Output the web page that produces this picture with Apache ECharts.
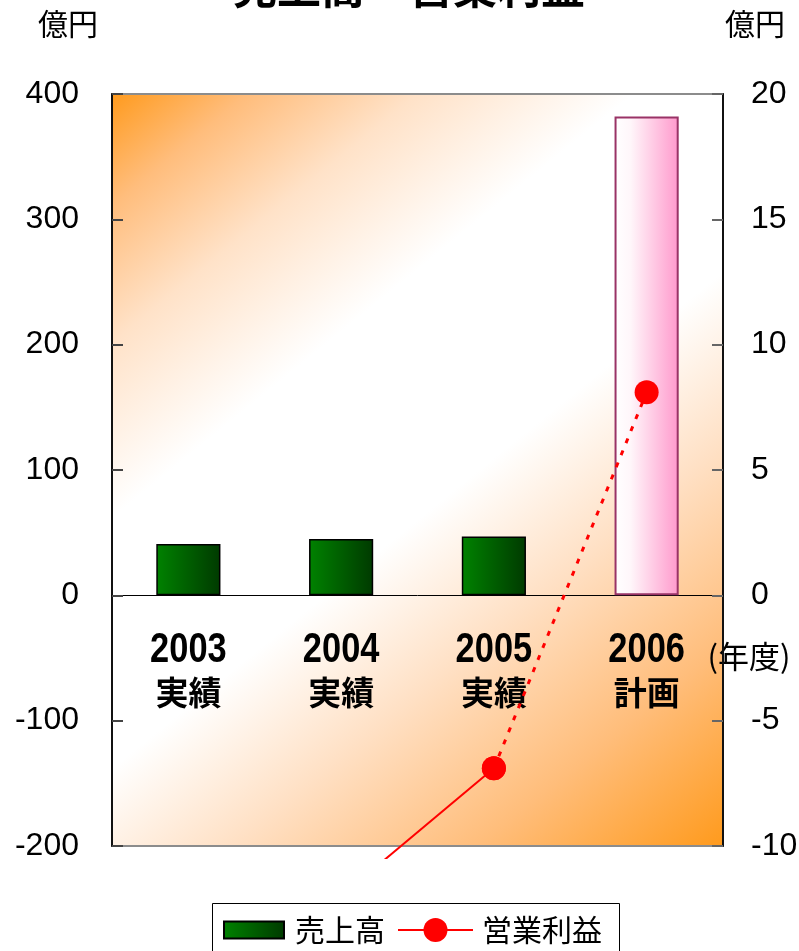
<!DOCTYPE html>
<html>
<head>
<meta charset="utf-8">
<script src="https://cdn.jsdelivr.net/npm/echarts@6/dist/echarts.min.js"></script>
<style>
  html, body { margin: 0; padding: 0; background: #fff; }
  #chart { width: 799px; height: 951px; }
</style>
</head>
<body>
<div id="chart"></div>
<script>
// Fiscal years and their status (actual / plan)
const years = ['2003', '2004', '2005', '2006'];
const status = ['実績', '実績', '実績', '計画'];

// 売上高 (億円), left axis
const sales = [41, 45, 47, 382];
// 営業利益 (億円), right axis: actual segment and plan segment
const profitActual = [null, -12, -6.9, null];
const profitPlan = [null, null, -6.9, 8.1];

// Axis ranges and tick steps
const leftAxis = { min: -200, max: 400, interval: 100 };
const rightAxis = { min: -10, max: 20, interval: 5 };

const CJK = '"Noto Sans CJK JP", "Noto Sans", sans-serif';
const LATIN = '"Liberation Sans", Arial, sans-serif';

const W = 799, H = 951;
const chart = echarts.init(document.getElementById('chart'), null, { renderer: 'canvas', width: W, height: H });

const plotLeft = 112, plotRight = 76, plotTop = 94, plotBottom = 105;
const plotH = H - plotTop - plotBottom;
// vertical position of the zero line, where the category axis sits
const zeroY = plotTop + plotH * leftAxis.max / (leftAxis.max - leftAxis.min);
// the profit line may run a little past the bottom frame before being cut off
const lineOverrun = 12;
const pxPerUnit = plotH / (rightAxis.max - rightAxis.min);

const plotBg = {
  type: 'linear', x: 0, y: 0, x2: 1, y2: 1,
  colorStops: [
    { offset: 0, color: '#ff9a1c' },
    { offset: 0.09, color: '#ffbd7c' },
    { offset: 0.2, color: '#ffe2c8' },
    { offset: 0.34, color: '#ffffff' },
    { offset: 0.54, color: '#ffffff' },
    { offset: 0.68, color: '#ffe0c4' },
    { offset: 0.84, color: '#ffbd7a' },
    { offset: 1, color: '#ff9a1c' }
  ]
};

const option = {
  animation: false,
  backgroundColor: '#ffffff',
  graphic: [
    { type: 'text', x: 409, y: -13, z: 10,
      style: { text: '売上高・営業利益', font: 'bold 44px ' + CJK, fill: '#000',
               textAlign: 'center', textVerticalAlign: 'middle' } },
    { type: 'text', x: 68, y: 24,
      style: { text: '億円', font: '30px ' + CJK, fill: '#000', textAlign: 'center', textVerticalAlign: 'middle' } },
    { type: 'text', x: 755, y: 24,
      style: { text: '億円', font: '30px ' + CJK, fill: '#000', textAlign: 'center', textVerticalAlign: 'middle' } },
    { type: 'text', x: 749, y: 656,
      style: { text: '(年度)', font: '31px ' + CJK, fill: '#000', textAlign: 'center', textVerticalAlign: 'middle' } },
    // legend frame
    { type: 'rect', shape: { x: 212.5, y: 903.5, width: 407, height: 60 },
      style: { fill: '#fff', stroke: '#000', lineWidth: 1 }, z: -1 }
  ],
  legend: [
    { left: 223, top: 915, padding: 0,
      itemWidth: 60, itemHeight: 17,
      textStyle: { fontSize: 30, lineHeight: 30, fontFamily: CJK, color: '#000', padding: [0, 0, 0, 6] },
      data: [{ name: '売上高', icon: 'rect' }] },
    { left: 397, top: 915, padding: 0,
      itemWidth: 75, itemHeight: 30,
      textStyle: { fontSize: 30, lineHeight: 30, fontFamily: CJK, color: '#000', padding: [0, 0, 0, 4] },
      data: [{ name: '営業利益' }] }
  ],
  grid: [
    { left: plotLeft, right: plotRight, top: plotTop, bottom: plotBottom, outerBoundsMode: 'none',
      show: true, borderColor: '#8c8c8c', borderWidth: 2, backgroundColor: plotBg },
    { left: plotLeft, right: plotRight, top: plotTop, bottom: plotBottom - lineOverrun,
      outerBoundsMode: 'none', show: false },
    { left: plotLeft, right: plotRight, top: plotTop, bottom: H - zeroY,
      outerBoundsMode: 'none', show: false }
  ],
  xAxis: [
    { type: 'category', gridIndex: 0, data: years, boundaryGap: true, show: false },
    { type: 'category', gridIndex: 1, data: years, boundaryGap: true, show: false },
    { type: 'category', gridIndex: 2, data: years, boundaryGap: true, position: 'bottom',
      axisLine: { onZero: false, lineStyle: { color: '#000', width: 1 } },
      axisTick: { inside: true, length: 8, lineStyle: { color: '#666', width: 1.5 } },
      axisLabel: { show: false }, splitLine: { show: false } }
  ],
  yAxis: [
    { type: 'value', gridIndex: 0, position: 'left',
      min: leftAxis.min, max: leftAxis.max, interval: leftAxis.interval,
      axisLine: { show: true, onZero: false, lineStyle: { color: '#111', width: 2 } },
      axisTick: { show: true, inside: true, length: 11, lineStyle: { color: '#444', width: 2 } },
      axisLabel: { fontFamily: LATIN, fontSize: 32, color: '#000', margin: 33 },
      splitLine: { show: false } },
    { type: 'value', gridIndex: 0, position: 'right',
      min: rightAxis.min, max: rightAxis.max, interval: rightAxis.interval,
      axisLine: { show: true, onZero: false, lineStyle: { color: '#111', width: 2 } },
      axisTick: { show: true, inside: true, length: 11, lineStyle: { color: '#666', width: 2 } },
      axisLabel: { fontFamily: LATIN, fontSize: 32, color: '#000', margin: 28 },
      splitLine: { show: false } },
    { type: 'value', gridIndex: 1, show: false,
      min: rightAxis.min - lineOverrun / pxPerUnit, max: rightAxis.max },
    { type: 'value', gridIndex: 2, show: false, min: 0, max: 1 }
  ],
  series: [
    { name: '売上高', type: 'bar', xAxisIndex: 0, yAxisIndex: 0, barWidth: '42%',
      itemStyle: {
        color: { type: 'linear', x: 0, y: 0, x2: 1, y2: 0,
                 colorStops: [{ offset: 0, color: '#008200' }, { offset: 1, color: '#003a00' }] },
        borderColor: '#000', borderWidth: 1.5
      },
      data: sales.map((v, i) => status[i] === '計画'
        ? { value: v, itemStyle: {
              color: { type: 'linear', x: 0, y: 0, x2: 1, y2: 0,
                       colorStops: [{ offset: 0, color: '#ffffff' }, { offset: 0.25, color: '#fff6fa' }, { offset: 1, color: '#ff99cc' }] },
              borderColor: '#993366', borderWidth: 2 } }
        : v) },
    // year / status captions under the zero line, placed through the category scale
    { type: 'custom', xAxisIndex: 0, yAxisIndex: 0, silent: true, clip: false, z: 4,
      data: years.map((y, i) => [i, 0]),
      renderItem: (params, api) => {
        const i = params.dataIndex;
        const p = api.coord([api.value(0), api.value(1)]);
        return {
          type: 'group',
          children: [
            { type: 'text', x: p[0], y: p[1] + 55, scaleX: 0.8,
              style: { text: years[i], font: 'bold 43px ' + LATIN, fill: '#000',
                       textAlign: 'center', textVerticalAlign: 'middle' } },
            { type: 'text', x: p[0], y: p[1] + 97,
              style: { text: status[i], font: 'bold 33px ' + CJK, fill: '#000',
                       textAlign: 'center', textVerticalAlign: 'middle' } }
          ]
        };
      } },
    { name: '営業利益', type: 'line', xAxisIndex: 1, yAxisIndex: 2, clip: true,
      symbol: 'circle', symbolSize: 24, showSymbol: true,
      itemStyle: { color: '#ff0000' },
      lineStyle: { color: '#ff0000', width: 2 },
      data: profitActual, connectNulls: false, z: 5 },
    { name: '営業利益', type: 'line', xAxisIndex: 1, yAxisIndex: 2, clip: true,
      symbol: 'circle', symbolSize: 24,
      itemStyle: { color: '#ff0000' },
      lineStyle: { color: '#ff0000', width: 3, type: [5, 8] },
      data: profitPlan, connectNulls: false, z: 6 }
  ]
};

chart.setOption(option);
</script>
</body>
</html>
